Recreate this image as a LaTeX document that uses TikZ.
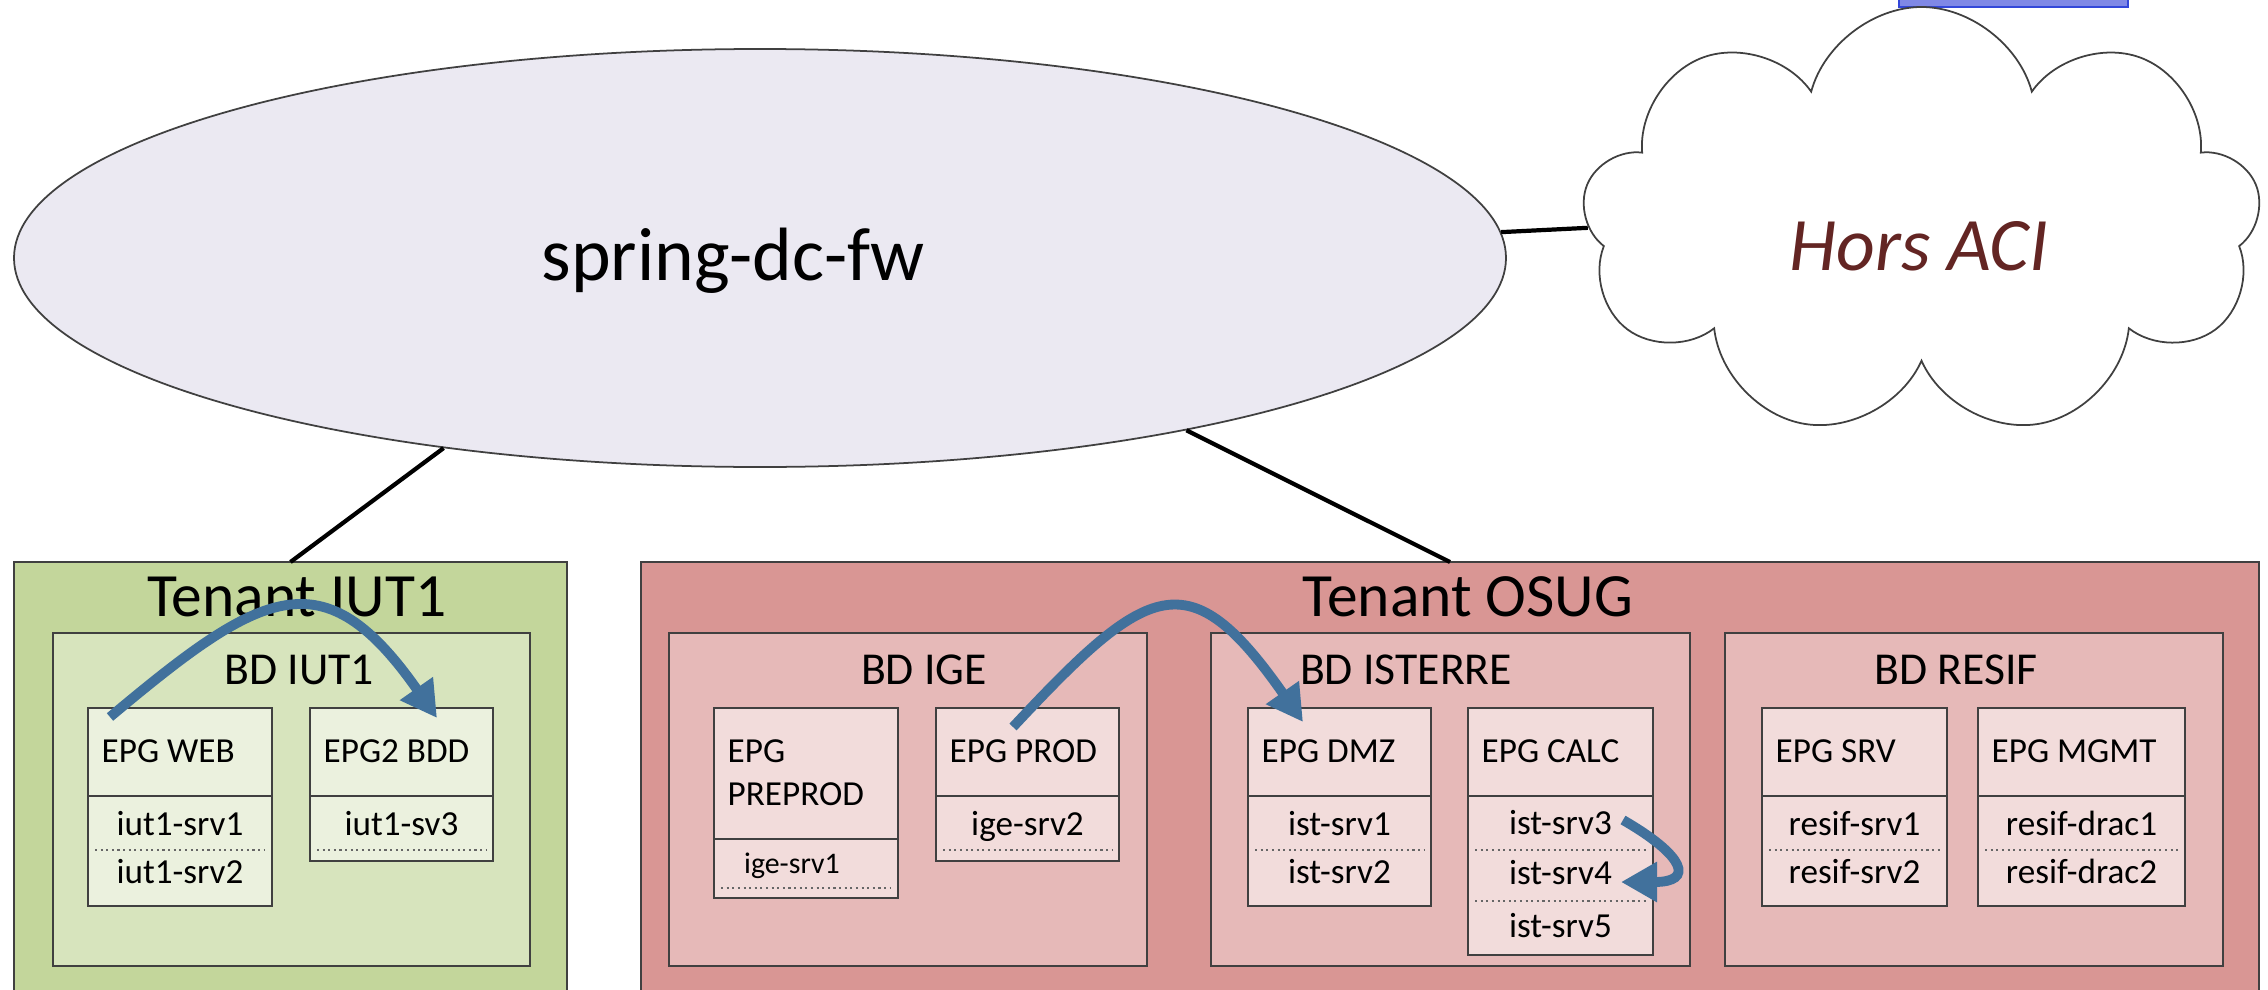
\documentclass[tikz,border=0pt]{standalone}
\usepackage{fontspec}
\setmainfont{Carlito}
\usetikzlibrary{arrows.meta,positioning,shapes.geometric,shapes.symbols}

\definecolor{iutdark}{HTML}{C3D69B}
\definecolor{iutmid}{HTML}{D7E4BD}
\definecolor{iutlight}{HTML}{EBF1DE}
\definecolor{osugdark}{HTML}{D99694}
\definecolor{osugmid}{HTML}{E6B9B8}
\definecolor{osuglight}{HTML}{F2DCDB}
\definecolor{fwfill}{HTML}{EBE9F2}
\definecolor{flowblue}{HTML}{41719C}
\definecolor{horsred}{HTML}{632523}
\definecolor{markerfill}{HTML}{7F88E6}
\definecolor{markerblue}{HTML}{3347D9}

\begin{document}
\begin{tikzpicture}[
  box/.style={draw=black!75, line width=0.7pt, anchor=north west, inner sep=0pt, outer sep=0pt},
  sep/.style={draw=black!60, densely dotted, line width=0.6pt},
  link/.style={line width=1.2pt},
  flow/.style={draw=flowblue, line width=2.8pt, -{Triangle[length=0.36cm,width=0.38cm]}},
  tenantlbl/.style={anchor=base, font=\fontsize{17.5}{21}\selectfont},
  bdlbl/.style={anchor=base, font=\fontsize{13}{16}\selectfont},
  epglbl/.style={anchor=base west, inner sep=0pt, font=\fontsize{10}{12}\selectfont},
  srv/.style={anchor=base, inner sep=0pt, font=\fontsize{10}{12}\selectfont}
]
\useasboundingbox (0,0) rectangle (22.68,-9.90);
\clip (0,0) rectangle (22.68,-9.90);

% marker at the top edge
\filldraw[draw=markerblue, fill=markerfill, line width=0.6pt] (18.99,0.10) rectangle (21.28,-0.07);

% firewall and outside world
\node[ellipse, draw=black!75, fill=fwfill, line width=0.5pt, minimum width=14.92cm, minimum height=4.18cm, inner sep=0pt] (fw) at (7.60,-2.58) {};
\node[anchor=base, font=\fontsize{21.5}{26}\selectfont] (fwlbl) at (7.33,-2.80) {spring-dc-fw};
\node[cloud, cloud puffs=9, aspect=1.5, draw=black!75, line width=0.5pt, minimum width=6.79cm, minimum height=4.30cm, inner sep=0pt] (hors) at (19.215,-2.22) {};
\node[anchor=base, text=horsred, font=\fontsize{21.5}{26}\selectfont\itshape] (horslbl) at (19.19,-2.70) {Hors ACI};

% tenants
\node[box, fill=iutdark, minimum width=5.53cm, minimum height=4.5cm] (iut) at (0.14,-5.62) {};
\node[box, fill=osugdark, minimum width=16.18cm, minimum height=4.5cm] (osug) at (6.41,-5.62) {};
\node[tenantlbl] (iutlbl) at (2.97,-6.16) {Tenant IUT1};
\node[tenantlbl] (osuglbl) at (14.68,-6.16) {Tenant OSUG};

\draw[link] (fw.211) -- (iut.north);
\draw[link] (fw.-22) -- (osug.north);
\draw[link] (fw.2) -- (hors.181);

% tenant IUT1
\node[box, fill=iutmid, minimum width=4.77cm, minimum height=3.33cm] (bdiut) at (0.53,-6.33) {};
\node[bdlbl] (bdiutlbl) at (2.99,-6.84) {BD IUT1};

\node[box, fill=iutlight, minimum width=1.84cm, minimum height=0.88cm] (webh) at (0.88,-7.08) {};
\node[box, fill=iutlight, minimum width=1.84cm, minimum height=1.10cm] (webb) at (webh.south west) {};
\node[epglbl] (weblbl) at ([shift={(0.13,-0.54)}]webh.north west) {EPG WEB};
\node[srv] (web1) at ([yshift=-0.39cm]webb.north) {iut1-srv1};
\node[srv] (web2) at ([yshift=-0.87cm]webb.north) {iut1-srv2};
\draw[sep] ([shift={(0.07,-0.54)}]webb.north west) -- ([shift={(-0.07,-0.54)}]webb.north east);

\node[box, fill=iutlight, minimum width=1.83cm, minimum height=0.88cm] (bddh) at (3.10,-7.08) {};
\node[box, fill=iutlight, minimum width=1.83cm, minimum height=0.65cm] (bddb) at (bddh.south west) {};
\node[epglbl] (bddlbl) at ([shift={(0.13,-0.54)}]bddh.north west) {EPG2 BDD};
\node[srv] (bdd1) at ([yshift=-0.39cm]bddb.north) {iut1-sv3};
\draw[sep] ([shift={(0.07,-0.54)}]bddb.north west) -- ([shift={(-0.07,-0.54)}]bddb.north east);

% tenant OSUG
\node[box, fill=osugmid, minimum width=4.78cm, minimum height=3.33cm] (bdige) at (6.69,-6.33) {};
\node[bdlbl] (bdigelbl) at (9.24,-6.84) {BD IGE};

\node[box, fill=osuglight, minimum width=1.84cm, minimum height=1.31cm] (preh) at (7.14,-7.08) {};
\node[box, fill=osuglight, minimum width=1.84cm, minimum height=0.59cm] (preb) at (preh.south west) {};
\node[epglbl] (prelbl) at ([shift={(0.13,-0.54)}]preh.north west) {EPG};
\node[epglbl] (prelbl2) at ([shift={(0.13,-0.97)}]preh.north west) {PREPROD};
\node[srv, font=\fontsize{8.5}{10}\selectfont] (pre1) at ([shift={(-0.14,-0.34)}]preb.north) {ige-srv1};
\draw[sep] ([shift={(0.07,-0.49)}]preb.north west) -- ([shift={(-0.07,-0.49)}]preb.north east);

\node[box, fill=osuglight, minimum width=1.83cm, minimum height=0.88cm] (prodh) at (9.36,-7.08) {};
\node[box, fill=osuglight, minimum width=1.83cm, minimum height=0.65cm] (prodb) at (prodh.south west) {};
\node[epglbl] (prodlbl) at ([shift={(0.13,-0.54)}]prodh.north west) {EPG PROD};
\node[srv] (prod1) at ([yshift=-0.39cm]prodb.north) {ige-srv2};
\draw[sep] ([shift={(0.07,-0.54)}]prodb.north west) -- ([shift={(-0.07,-0.54)}]prodb.north east);

\node[box, fill=osugmid, minimum width=4.79cm, minimum height=3.33cm] (bdist) at (12.11,-6.33) {};
\node[bdlbl] (bdistlbl) at (14.06,-6.84) {BD ISTERRE};

\node[box, fill=osuglight, minimum width=1.83cm, minimum height=0.88cm] (dmzh) at (12.48,-7.08) {};
\node[box, fill=osuglight, minimum width=1.83cm, minimum height=1.10cm] (dmzb) at (dmzh.south west) {};
\node[epglbl] (dmzlbl) at ([shift={(0.13,-0.54)}]dmzh.north west) {EPG DMZ};
\node[srv] (dmz1) at ([yshift=-0.39cm]dmzb.north) {ist-srv1};
\node[srv] (dmz2) at ([yshift=-0.87cm]dmzb.north) {ist-srv2};
\draw[sep] ([shift={(0.07,-0.54)}]dmzb.north west) -- ([shift={(-0.07,-0.54)}]dmzb.north east);

\node[box, fill=osuglight, minimum width=1.85cm, minimum height=0.88cm] (calch) at (14.68,-7.08) {};
\node[box, fill=osuglight, minimum width=1.85cm, minimum height=1.59cm] (calcb) at (calch.south west) {};
\node[epglbl] (calclbl) at ([shift={(0.13,-0.54)}]calch.north west) {EPG CALC};
\node[srv] (calc3) at ([yshift=-0.38cm]calcb.north) {ist-srv3};
\node[srv] (calc4) at ([yshift=-0.88cm]calcb.north) {ist-srv4};
\node[srv] (calc5) at ([yshift=-1.41cm]calcb.north) {ist-srv5};
\draw[sep] ([shift={(0.07,-0.54)}]calcb.north west) -- ([shift={(-0.07,-0.54)}]calcb.north east);
\draw[sep] ([shift={(0.07,-1.05)}]calcb.north west) -- ([shift={(-0.07,-1.05)}]calcb.north east);

\node[box, fill=osugmid, minimum width=4.98cm, minimum height=3.33cm] (bdres) at (17.25,-6.33) {};
\node[bdlbl] (bdreslbl) at (19.56,-6.84) {BD RESIF};

\node[box, fill=osuglight, minimum width=1.85cm, minimum height=0.88cm] (srvh) at (17.62,-7.08) {};
\node[box, fill=osuglight, minimum width=1.85cm, minimum height=1.10cm] (srvb) at (srvh.south west) {};
\node[epglbl] (srvlbl) at ([shift={(0.13,-0.54)}]srvh.north west) {EPG SRV};
\node[srv] (srv1) at ([yshift=-0.39cm]srvb.north) {resif-srv1};
\node[srv] (srv2) at ([yshift=-0.87cm]srvb.north) {resif-srv2};
\draw[sep] ([shift={(0.07,-0.54)}]srvb.north west) -- ([shift={(-0.07,-0.54)}]srvb.north east);

\node[box, fill=osuglight, minimum width=2.07cm, minimum height=0.88cm] (mgmth) at (19.78,-7.08) {};
\node[box, fill=osuglight, minimum width=2.07cm, minimum height=1.10cm] (mgmtb) at (mgmth.south west) {};
\node[epglbl] (mgmtlbl) at ([shift={(0.13,-0.54)}]mgmth.north west) {EPG MGMT};
\node[srv] (mgmt1) at ([yshift=-0.39cm]mgmtb.north) {resif-drac1};
\node[srv] (mgmt2) at ([yshift=-0.87cm]mgmtb.north) {resif-drac2};
\draw[sep] ([shift={(0.07,-0.54)}]mgmtb.north west) -- ([shift={(-0.07,-0.54)}]mgmtb.north east);

% flows between EPGs
\draw[flow] ([shift={(0.22,-0.09)}]webh.north west) to[out=40, in=125, looseness=1.55] ([shift={(1.27,-0.10)}]bddh.north west);
\draw[flow] ([shift={(0.77,-0.19)}]prodh.north west) to[out=47, in=125, looseness=1.75] ([shift={(0.55,-0.14)}]dmzh.north west);
\draw[flow] ([shift={(1.55,-0.24)}]calcb.north west) to[out=-30, in=0, looseness=3] ([shift={(1.53,-0.86)}]calcb.north west);

\end{tikzpicture}
\end{document}
